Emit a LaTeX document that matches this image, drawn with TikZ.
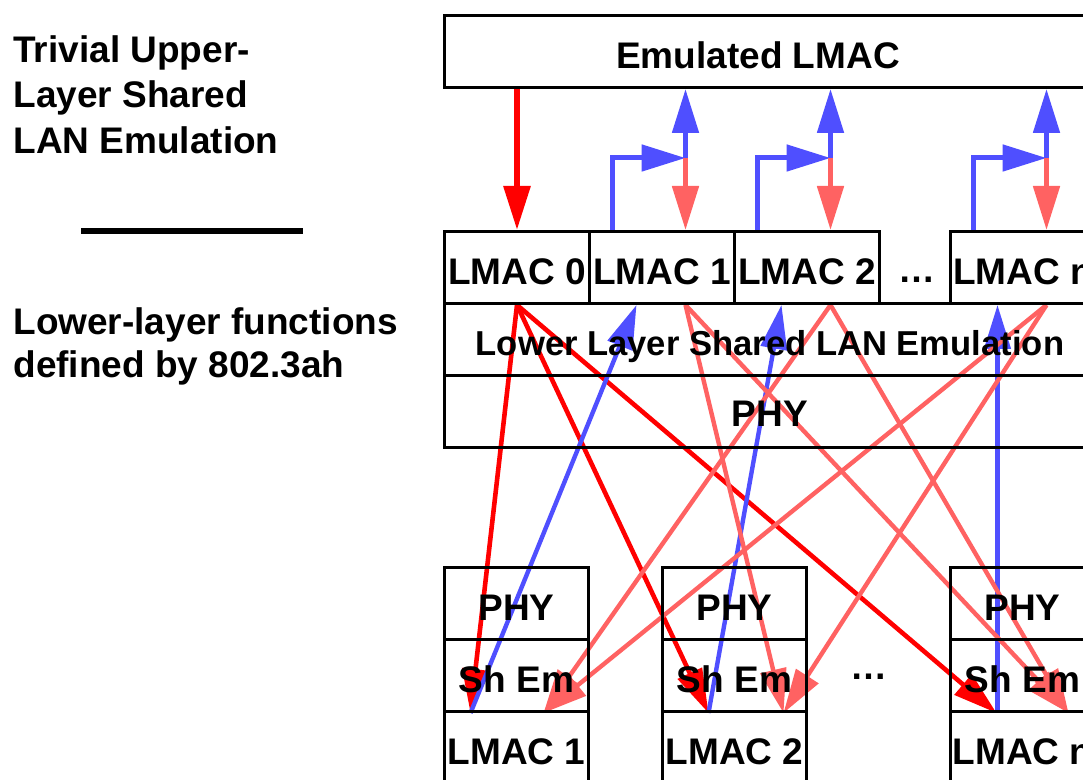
\documentclass[tikz,border=0pt]{standalone}
\usepackage{fontspec}
\setmainfont{Liberation Sans}
\usetikzlibrary{arrows.meta,calc}
\definecolor{redA}{HTML}{FF0000}
\definecolor{redB}{HTML}{FF6262}
\definecolor{bluA}{HTML}{4F4FFF}
\pgfdeclarelayer{bg}
\pgfsetlayers{bg,main}
\begin{document}
\begin{tikzpicture}[x=0.5pt,y=-0.5pt,
  every node/.style={font=\fontsize{18.5pt}{22pt}\selectfont\bfseries},
  box/.style={draw, line width=1.5pt, inner sep=0pt, anchor=north west, minimum height=36pt, text height=17pt, text depth=0pt},
  cell/.style={box, minimum width=72.5pt},
  lcell/.style={box, minimum width=72pt},
  wide/.style={box, minimum width=325.5pt},
  lbl/.style={inner sep=0pt, text height=17pt, text depth=0pt},
  side/.style={inner sep=0pt, anchor=base west},
  tipA/.style={-{Triangle[length=22pt,width=13pt]}},
  hotTop/.style={tipA, draw=redA, line width=3pt},
  bluTop/.style={tipA, draw=bluA, line width=2.5pt},
  redTop/.style={tipA, draw=redB, line width=2.5pt},
  hot/.style={tipA, draw=redA, line width=2.3pt},
  cool/.style={tipA, draw=bluA, line width=2.2pt},
  warm/.style={tipA, draw=redB, line width=2.2pt}
]
\path[use as bounding box] (0,0) rectangle (1083,780);
\clip (0,0) rectangle (1083,780);

% left texts
\node[side] (t1) at (13,63) {Trivial Upper-};
\node[side] (t2) at (13,108) {Layer Shared};
\node[side] (t3) at (13,154) {LAN Emulation};
\coordinate (r1) at (81,231);
\coordinate (r2) at (303,231);
\draw[line width=3pt] (r1) -- (r2);
\node[side] (t4) at (13,335) {Lower-layer functions};
\node[side] (t5) at (13,378) {defined by 802.3ah};

% upper stack
\node[wide, minimum width=325pt] (E) at (443,14) {};
\node[lbl] (Et) at ([xshift=-5.75pt]E.center) {Emulated LMAC};
\node[cell] (L0) at (443,230) {LMAC 0};
\node[cell] (L1) at (588,230) {LMAC 1};
\node[cell] (L2) at (733,230) {LMAC 2};
\node[cell] (Ln) at (949,230) {LMAC n};
\node[lbl, anchor=base] (d1) at (917,283) {…};
\node[wide, font=\fontsize{17.3pt}{20pt}\selectfont\bfseries, text height=16pt] (LL) at (443,302) {Lower Layer Shared LAN Emulation};
\node[wide, text height=15pt] (P) at (443,374) {PHY};

% lower stacks
\node[lcell] (P1) at (443,566) {PHY};
\node[lcell] (S1) at (443,638) {Sh Em};
\node[lcell] (M1) at (443,710) {LMAC 1};
\node[lcell] (P2) at (661,566) {PHY};
\node[lcell] (S2) at (661,638) {Sh Em};
\node[lcell] (M2) at (661,710) {LMAC 2};
\node[lcell] (Pn) at (949,566) {PHY};
\node[lcell] (Sn) at (949,638) {Sh Em};
\node[lcell] (Mn) at (949,710) {LMAC n};
\node[lbl, anchor=base] (d2) at (869,680) {…};

% junction / endpoint coordinates
\coordinate (j1) at ([xshift=11.75pt,yshift=36pt]L1.north);
\coordinate (j2) at ([xshift=11.75pt,yshift=36pt]L2.north);
\coordinate (jn) at ([xshift=11.75pt,yshift=36pt]Ln.north);
\coordinate (b1) at ([xshift=-24.75pt]L1.north);
\coordinate (b2) at ([xshift=-24.75pt]L2.north);
\coordinate (bn) at ([xshift=-24.75pt]Ln.north);
\coordinate (o1) at ([xshift=11.75pt]L1.south);
\coordinate (o2) at ([xshift=11.75pt]L2.south);
\coordinate (on) at ([xshift=11.75pt]Ln.south);
\coordinate (i1) at ([xshift=-12.75pt]L1.south);
\coordinate (i2) at ([xshift=-12.75pt]L2.south);
\coordinate (in) at ([xshift=-12.75pt]Ln.south);
\coordinate (a1) at ([xshift=-23pt]S1.south);
\coordinate (a2) at ([xshift=-13pt]S2.south);
\coordinate (an) at ([xshift=-13pt]Sn.south);
\coordinate (c1) at ([xshift=13.5pt]S1.south);
\coordinate (c2) at ([xshift=24.5pt]S2.south);
\coordinate (cn) at ([xshift=23pt]Sn.south);

\begin{pgfonlayer}{bg}
% top arrows
\draw[hotTop] (E.south -| L0.north) -- (L0.north);
\foreach \k in {1,2,n}{
  \draw[bluTop] (b\k) |- (j\k);
  \draw[bluTop] (j\k) -- (j\k |- E.south);
  \draw[redTop] (j\k) -- (j\k |- L0.north);
}
% lower crossing arrows
\draw[hot] (L0.south) -- (a1);
\draw[hot] (L0.south) -- (a2);
\draw[hot] (L0.south) -- (an);
\draw[cool] (a1) -- (i1);
\draw[cool] (a2) -- (i2);
\draw[cool] (an -| in) -- (in);
\draw[warm] (o1) -- (c2);
\draw[warm] (o1) -- (cn);
\draw[warm] (o2) -- (c1);
\draw[warm] (o2) -- (cn);
\draw[warm] (on) -- (c1);
\draw[warm] (on) -- (c2);
\end{pgfonlayer}
\end{tikzpicture}
\end{document}
